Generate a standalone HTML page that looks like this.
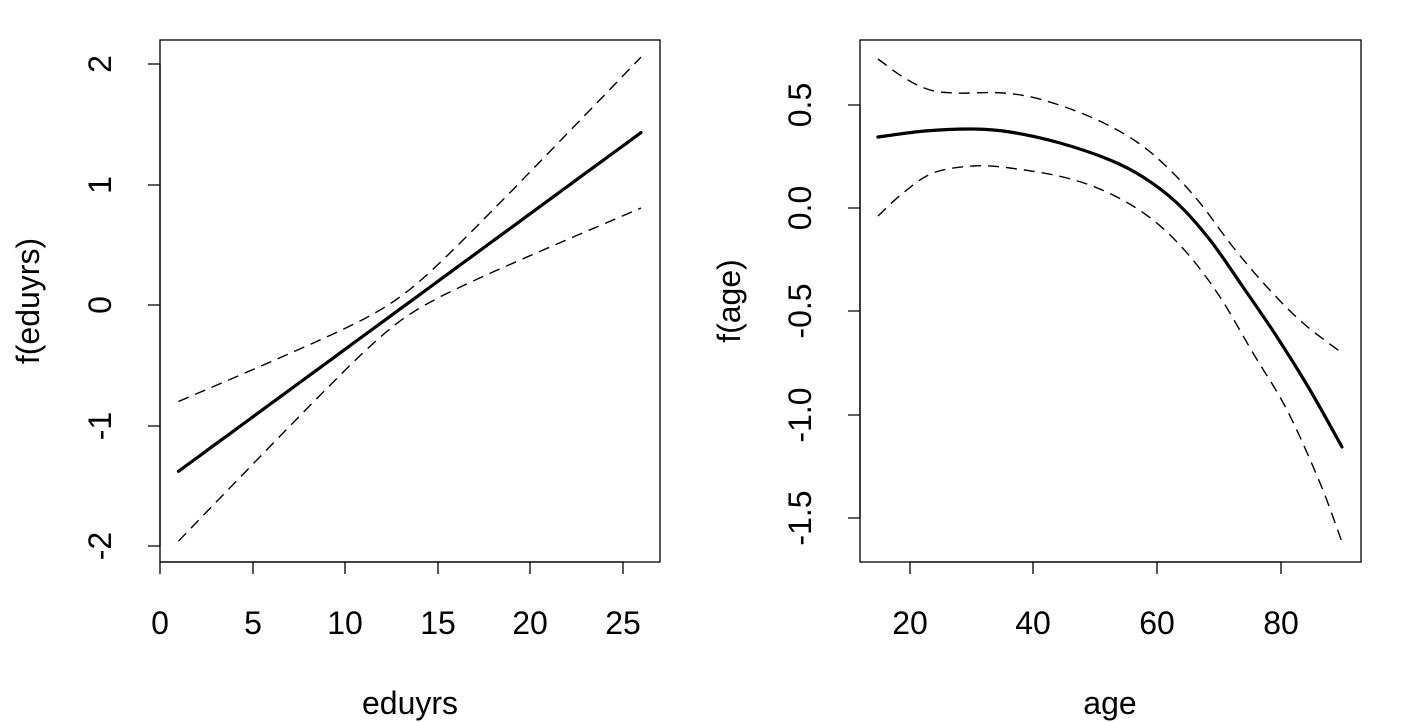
<!DOCTYPE html><html><head><style>body{margin:0;background:#fff}svg{display:block}text{font-family:"Liberation Sans",sans-serif;font-size:32px;fill:#000}</style></head><body>
<svg id="s" width="1401" height="722" xmlns="http://www.w3.org/2000/svg">
<g fill="none" stroke="#000" stroke-width="1.3">
<rect x="160" y="40" width="500" height="522"/>
<rect x="860" y="40" width="501" height="522"/>
<path d="M160,546V64M148,546H160M148,426H160M148,305H160M148,185H160M148,64H160"/>
<path d="M160,562H623M160,562v12M253,562v12M345,562v12M438,562v12M530,562v12M623,562v12"/>
<path d="M860,518V105M848,518H860M848,415H860M848,311H860M848,208H860M848,105H860"/>
<path d="M910,562H1281M910,562v12M1033,562v12M1157,562v12M1281,562v12"/>
</g>
<g fill="none" stroke="#000" stroke-linejoin="round">
<path id="ls" stroke-width="3.2" stroke-linecap="round"/>
<path id="lu" stroke-width="1.4" stroke-dasharray="11,7"/>
<path id="ll" stroke-width="1.4" stroke-dasharray="11,7"/>
<path id="rs" stroke-width="3.2" stroke-linecap="round"/>
<path id="ru" stroke-width="1.4" stroke-dasharray="11,7"/>
<path id="rl" stroke-width="1.4" stroke-dasharray="11,7"/>
</g>
<g text-anchor="middle">
<text x="160" y="634">0</text><text x="253" y="634">5</text><text x="345" y="634">10</text><text x="438" y="634">15</text><text x="530" y="634">20</text><text x="623" y="634">25</text>
<text x="910" y="634">20</text><text x="1033" y="634">40</text><text x="1157" y="634">60</text><text x="1281" y="634">80</text>
<text x="410" y="714">eduyrs</text><text x="1110" y="714">age</text>
<text transform="translate(111,546) rotate(-90)">-2</text><text transform="translate(111,426) rotate(-90)">-1</text><text transform="translate(111,305) rotate(-90)">0</text><text transform="translate(111,185) rotate(-90)">1</text><text transform="translate(111,64) rotate(-90)">2</text>
<text transform="translate(811,518) rotate(-90)">-1.5</text><text transform="translate(811,415) rotate(-90)">-1.0</text><text transform="translate(811,311) rotate(-90)">-0.5</text><text transform="translate(811,208) rotate(-90)">0.0</text><text transform="translate(811,105) rotate(-90)">0.5</text>
<text transform="translate(39,301) rotate(-90)">f(eduyrs)</text>
<text transform="translate(740,301) rotate(-90)">f(age)</text>
</g>
</svg>
<script>
var s="",u="",l="";
for(var i=0;i<=60;i++){var x=1+25*i/60;var f=-1.38+0.11244*(x-1);var se=Math.sqrt(0.01+0.00226*(x-13)*(x-13));
var px=160+18.5*x;var c=i?"L":"M";
s+=c+px.toFixed(1)+","+(305-120.5*f).toFixed(1);
u+=c+px.toFixed(1)+","+(305-120.5*(f+se)).toFixed(1);
l+=c+px.toFixed(1)+","+(305-120.5*(f-se)).toFixed(1);}
document.getElementById("ls").setAttribute("d",s);
document.getElementById("lu").setAttribute("d",u);
document.getElementById("ll").setAttribute("d",l);
function cr(p){var d="M"+p[0][0]+","+p[0][1];for(var i=0;i<p.length-1;i++){var a=p[i-1]||p[i],b=p[i],c=p[i+1],e=p[i+2]||c;
d+="C"+(b[0]+(c[0]-a[0])/6).toFixed(1)+","+(b[1]+(c[1]-a[1])/6).toFixed(1)+" "+(c[0]-(e[0]-b[0])/6).toFixed(1)+","+(c[1]-(e[1]-b[1])/6).toFixed(1)+" "+c[0]+","+c[1];}return d;}
document.getElementById("rs").setAttribute("d",cr([[878,137],[925,131],[973,129],[1010,132],[1060,143],[1110,160],[1143,177],[1177,203],[1210,240],[1243,287],[1277,337],[1310,390],[1342,447]]));
document.getElementById("ru").setAttribute("d",cr([[878,59],[903,77],[927,89],[953,93],[1003,93],[1043,100],[1093,118],[1137,142],[1170,170],[1200,203],[1233,247],[1267,287],[1303,323],[1342,353]]));
document.getElementById("rl").setAttribute("d",cr([[878,216],[903,193],[933,173],[973,166],[1010,168],[1067,178],[1113,195],[1153,220],[1187,253],[1220,297],[1253,353],[1287,410],[1320,483],[1342,542]]));
</script>
</body></html>
